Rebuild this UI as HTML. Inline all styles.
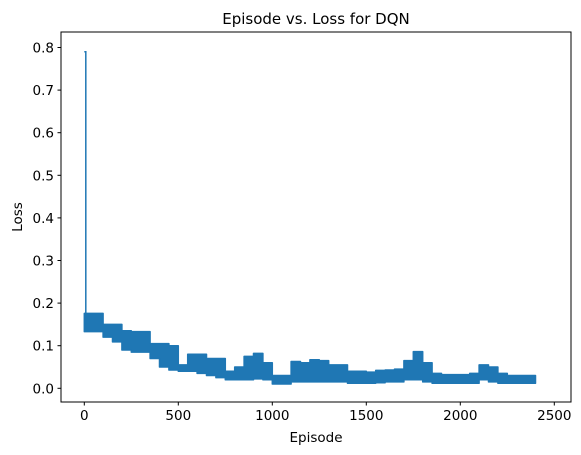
<!DOCTYPE html>
<html><head><meta charset="utf-8"><style>
body{margin:0;background:#fff;}
svg{display:block;font-family:"DejaVu Sans","Liberation Sans",sans-serif;}
</style></head><body>
<svg id="chart" width="581" height="455" xmlns="http://www.w3.org/2000/svg">
<rect x="0" y="0" width="581" height="455" fill="#fff"/>
<g id="plot"></g>
<rect x="61" y="32" width="510" height="370" fill="none" stroke="#000" stroke-width="1"/>
<g id="xt"></g><g id="yt"></g>
<text x="316" y="24" text-anchor="middle" font-size="15" fill="#000">Episode vs. Loss for DQN</text>
<text x="316" y="442" text-anchor="middle" font-size="13.5" fill="#000">Episode</text>
<text x="0" y="0" transform="translate(22,217) rotate(-90)" text-anchor="middle" font-size="13.5" fill="#000">Loss</text>
</svg>
<script>
const episodes=[0,50,100,150,200,250,300,350,400,450,500,550,600,650,700,750,800,850,900,950,1000,1050,1100,1150,1200,1250,1300,1350,1400,1450,1500,1550,1600,1650,1700,1750,1800,1850,1900,1950,2000,2050,2100,2150,2200,2250,2300,2350,2400];
const lossHigh=[.176,.176,.15,.15,.135,.133,.133,.105,.105,.1,.055,.08,.08,.07,.07,.04,.05,.075,.082,.06,.03,.03,.063,.06,.067,.065,.055,.055,.04,.04,.038,.042,.043,.045,.065,.086,.06,.035,.032,.032,.032,.035,.055,.05,.035,.03,.03,.03,.028];
const lossLow=[.133,.133,.12,.109,.09,.085,.085,.07,.05,.043,.04,.04,.035,.03,.025,.02,.02,.02,.022,.02,.01,.01,.015,.015,.015,.015,.015,.015,.012,.012,.012,.013,.015,.015,.02,.02,.015,.012,.012,.012,.012,.012,.02,.015,.012,.012,.012,.012,.014];
const spikeEpisodes=[0,8,8];
const spikeLoss=[0.79,0.79,0.14];
const xTicks=[0,500,1000,1500,2000,2500];
const yTicks=[0,0.1,0.2,0.3,0.4,0.5,0.6,0.7,0.8];
const NS="http://www.w3.org/2000/svg";
const X=v=>84.3+v*0.188;
const Y=v=>388.3-v*426;
const plot=document.getElementById('plot');
const n=episodes.length;
const endX=i=>X(i<n-1?episodes[i+1]:episodes[i]);
let pts=[];
for(let i=0;i<n;i++){pts.push(X(episodes[i])+','+Y(lossHigh[i]));pts.push(endX(i)+','+Y(lossHigh[i]));}
for(let i=n-1;i>=0;i--){pts.push(endX(i)+','+Y(lossLow[i]));pts.push(X(episodes[i])+','+Y(lossLow[i]));}
const band=document.createElementNS(NS,'polygon');
band.setAttribute('points',pts.join(' '));
band.setAttribute('fill','#1f77b4');band.setAttribute('stroke','#1f77b4');band.setAttribute('stroke-width','1.5');band.setAttribute('stroke-linejoin','round');


plot.appendChild(band);
const sp=document.createElementNS(NS,'polyline');
sp.setAttribute('points',spikeEpisodes.map((e,i)=>X(e)+','+Y(spikeLoss[i])).join(' '));
sp.setAttribute('fill','none');sp.setAttribute('stroke','#1f77b4');sp.setAttribute('stroke-width','1.5');


plot.appendChild(sp);
const xt=document.getElementById('xt');
xTicks.forEach(t=>{
 const l=document.createElementNS(NS,'line');
 l.setAttribute('x1',X(t));l.setAttribute('x2',X(t));l.setAttribute('y1',402);l.setAttribute('y2',405.5);l.setAttribute('stroke','#000');
 
 
 xt.appendChild(l);
 const tx=document.createElementNS(NS,'text');
 tx.setAttribute('x',X(t));tx.setAttribute('y',420);tx.setAttribute('text-anchor','middle');tx.setAttribute('font-size','13.5');
 tx.textContent=t;
 
 
 xt.appendChild(tx);
});
const yt=document.getElementById('yt');
yTicks.forEach(t=>{
 const l=document.createElementNS(NS,'line');
 l.setAttribute('x1',57.5);l.setAttribute('x2',61);l.setAttribute('y1',Y(t));l.setAttribute('y2',Y(t));l.setAttribute('stroke','#000');
 
 
 yt.appendChild(l);
 const tx=document.createElementNS(NS,'text');
 tx.setAttribute('x',54);tx.setAttribute('y',Y(t)+5);tx.setAttribute('text-anchor','end');tx.setAttribute('font-size','13.5');
 tx.textContent=t.toFixed(1);
 
 
 yt.appendChild(tx);
});
</script>
</body></html>
